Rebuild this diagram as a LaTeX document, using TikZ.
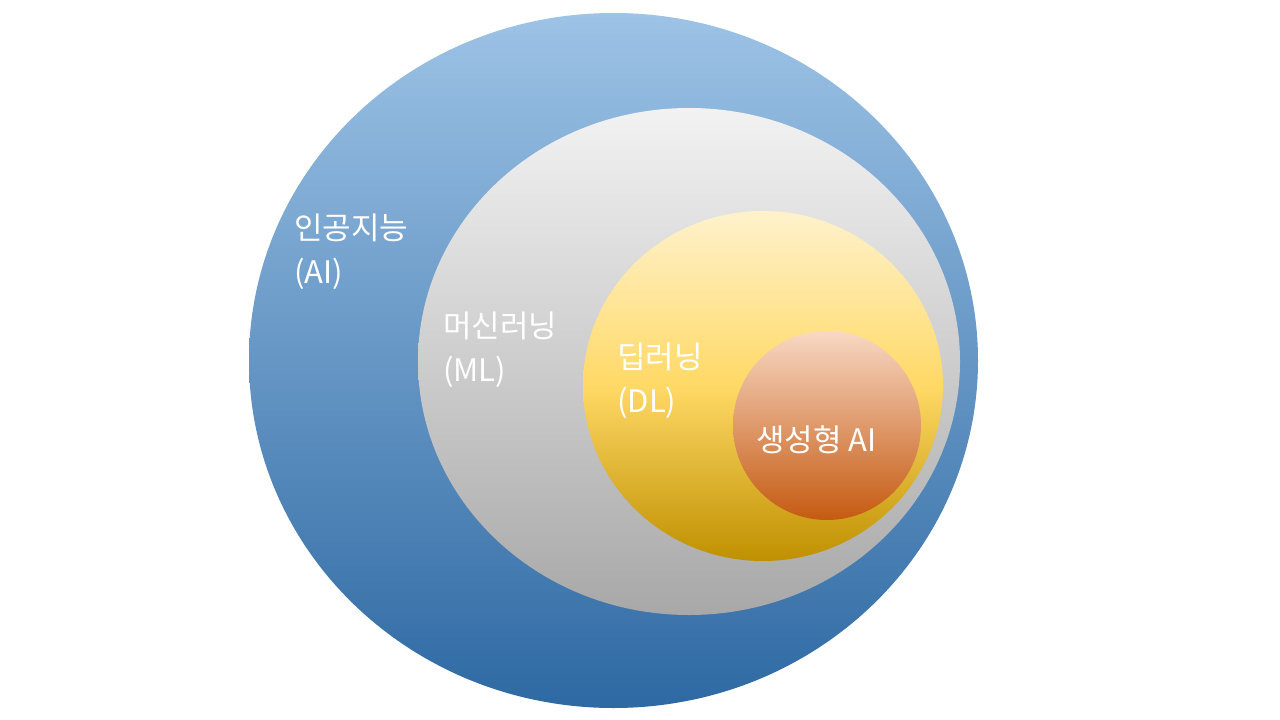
\documentclass[tikz,border=0pt]{standalone}
\usepackage{fontspec}
\newfontfamily\kr{Noto Sans CJK KR}
\begin{document}
\begin{tikzpicture}[x=1pt,y=-1pt,
  lbl/.style={text=white,font=\kr\fontsize{31}{44}\selectfont,align=left,anchor=west,inner sep=0pt}]
\useasboundingbox[fill=white] (0,0) rectangle (1280,720);
\definecolor{aT}{HTML}{9DC3E6}\definecolor{aB}{HTML}{2E69A3}
\definecolor{mT}{HTML}{F2F2F2}\definecolor{mB}{HTML}{A8A8A8}
\definecolor{dT}{HTML}{FFF2CC}\definecolor{dM}{HTML}{FFD966}\definecolor{dB}{HTML}{BF9000}
\definecolor{gT}{HTML}{F8D8C4}\definecolor{gB}{HTML}{C55A11}
\path[top color=aT,bottom color=aB] (613.5,360.5) ellipse [x radius=364.5,y radius=347.5];
\path[top color=mT,bottom color=mB] (689,361.5) ellipse [x radius=271,y radius=253.5];
\path[top color=dT,bottom color=dB,middle color=dM] (763,386) ellipse [x radius=180,y radius=175];
\path[top color=gT,bottom color=gB] (827,425.5) ellipse [x radius=94,y radius=94.5];
\node[lbl] (ai) at (294,252) {인공지능\\(AI)};
\node[lbl] (ml) at (443,350) {머신러닝\\(ML)};
\node[lbl] (dl) at (617,381) {딥러닝\\(DL)};
\node[lbl] (gen) at (756,440) {생성형 AI};
\end{tikzpicture}
\end{document}
